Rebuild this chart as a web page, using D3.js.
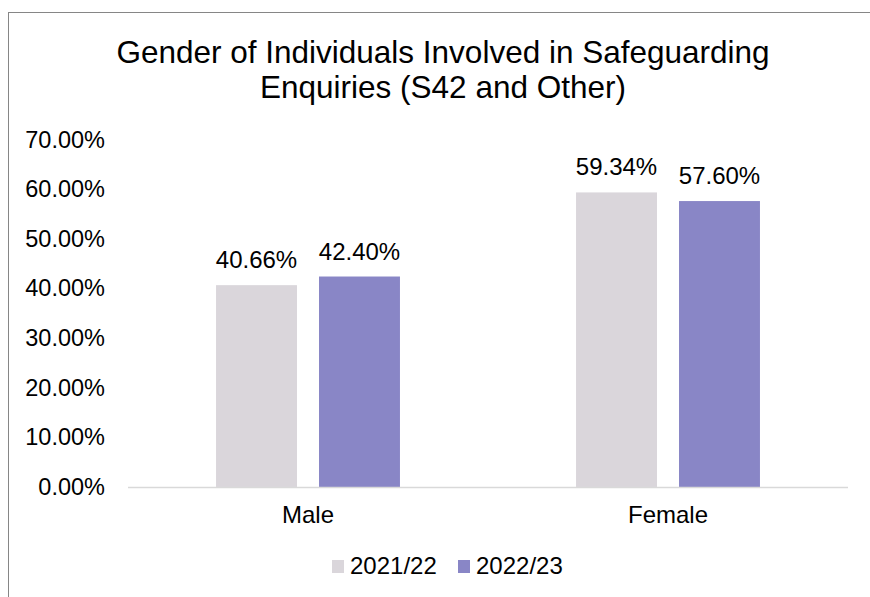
<!DOCTYPE html>
<html>
<head>
<meta charset="utf-8">
<script src="https://cdn.jsdelivr.net/npm/d3@7"></script>
<style>
  body { margin: 0; background: #fff; }
  svg { display: block; font-family: Arial, "Liberation Sans", sans-serif; }
</style>
</head>
<body>
<svg id="chart" width="870" height="597"></svg>
<script>
var categories = ["Male", "Female"];
var seriesNames = ["2021/22", "2022/23"];
var values2122 = [40.66, 59.34];
var values2223 = [42.40, 57.60];
var yTicks = [0, 10, 20, 30, 40, 50, 60, 70];
var colors = ["#dad6db", "#8986c6"];

var svg = d3.select("#chart");

// chart border (right / bottom run off the picture)
svg.append("rect")
    .attr("x", 8.5).attr("y", 12.5)
    .attr("width", 880).attr("height", 600)
    .attr("fill", "none")
    .attr("stroke", "#868686")
    .attr("stroke-width", 1);

// title
var title = svg.append("text")
    .attr("text-anchor", "middle")
    .attr("font-size", "31.5px")
    .attr("fill", "#000");
title.append("tspan").attr("x", 443).attr("y", 63)
    .text("Gender of Individuals Involved in Safeguarding");
title.append("tspan").attr("x", 443).attr("y", 98)
    .text("Enquiries (S42 and Other)");

var x0 = d3.scaleBand()
    .domain(categories)
    .range([128, 848])
    .padding(0);

var x1 = d3.scaleBand()
    .domain(seriesNames)
    .range([0, x0.bandwidth()])
    .paddingInner(0.214)
    .paddingOuter(0.855);

var y = d3.scaleLinear()
    .domain([0, 70])
    .range([487, 139.5]);

// y tick labels
var yAxis = svg.append("g")
    .attr("transform", "translate(105,0)")
    .call(d3.axisLeft(y).tickValues(yTicks).tickSize(0).tickPadding(0)
        .tickFormat(function (d) { return d.toFixed(2) + "%"; }));
yAxis.select(".domain").remove();
yAxis.selectAll("text")
    .attr("font-size", "23.5px")
    .attr("font-family", "Arial, 'Liberation Sans', sans-serif")
    .attr("fill", "#000");

var rows = categories.map(function (c, i) {
    return { cat: c, vals: [values2122[i], values2223[i]] };
});

var groups = svg.selectAll(".cat")
    .data(rows)
    .enter()
    .append("g")
    .attr("class", "cat")
    .attr("transform", function (d) { return "translate(" + x0(d.cat) + ",0)"; });

groups.selectAll("rect")
    .data(function (d) { return d.vals.map(function (v, j) { return { s: seriesNames[j], v: v, j: j }; }); })
    .enter()
    .append("rect")
    .attr("x", function (d) { return x1(d.s); })
    .attr("y", function (d) { return y(d.v); })
    .attr("width", x1.bandwidth())
    .attr("height", function (d) { return y(0) - y(d.v); })
    .attr("fill", function (d) { return colors[d.j]; });

groups.selectAll(".lbl")
    .data(function (d) { return d.vals.map(function (v, j) { return { s: seriesNames[j], v: v }; }); })
    .enter()
    .append("text")
    .attr("class", "lbl")
    .attr("x", function (d) { return x1(d.s) + x1.bandwidth() / 2; })
    .attr("y", function (d) { return y(d.v) - 17; })
    .attr("text-anchor", "middle")
    .attr("font-size", "24px")
    .attr("fill", "#000")
    .text(function (d) { return d.v.toFixed(2) + "%"; });

// x axis line
svg.append("line")
    .attr("x1", 128).attr("x2", 848)
    .attr("y1", y(0) + 0.5).attr("y2", y(0) + 0.5)
    .attr("stroke", "#d9d9d9")
    .attr("stroke-width", 1.5);

// category labels
var xAxis = svg.append("g")
    .attr("transform", "translate(0," + y(0) + ")")
    .call(d3.axisBottom(x0).tickSize(0).tickPadding(0));
xAxis.select(".domain").remove();
xAxis.selectAll("text")
    .attr("dy", null)
    .attr("y", 36)
    .attr("font-size", "24px")
    .attr("font-family", "Arial, 'Liberation Sans', sans-serif")
    .attr("fill", "#000");

// legend
var legendX = [332, 458];
var legend = svg.selectAll(".leg")
    .data(seriesNames)
    .enter()
    .append("g")
    .attr("class", "leg")
    .attr("transform", function (d, i) { return "translate(" + legendX[i] + ",560)"; });
legend.append("rect")
    .attr("width", 12).attr("height", 13)
    .attr("fill", function (d, i) { return colors[i]; });
legend.append("text")
    .attr("x", 18).attr("y", 14)
    .attr("font-size", "24px")
    .attr("fill", "#000")
    .text(function (d) { return d; });
</script>
</body>
</html>
